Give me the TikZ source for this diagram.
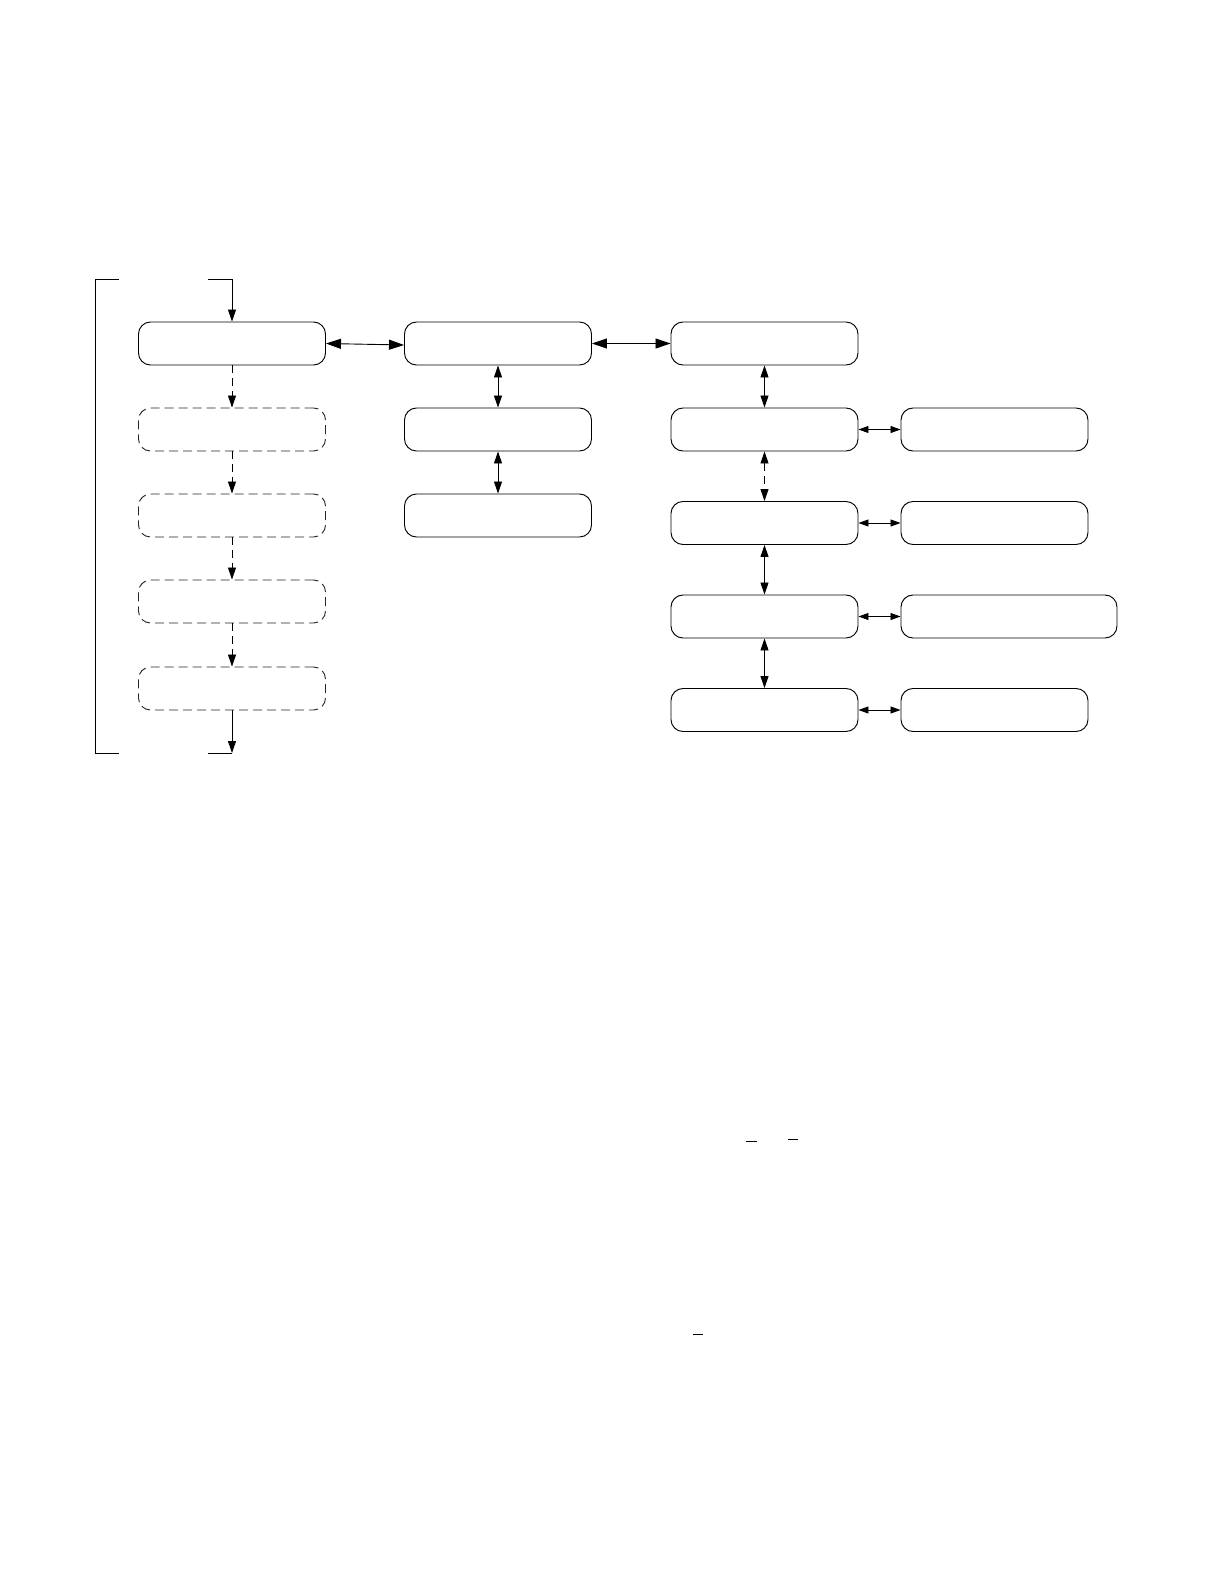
\documentclass[tikz,border=0pt]{standalone}
\usetikzlibrary{arrows.meta}
\begin{document}
\begin{tikzpicture}[x=1pt,y=-1pt,
  box/.style={draw, line width=0.95pt, rounded corners=12pt, minimum width=187pt, minimum height=43pt, inner sep=0pt},
  dbox/.style={box, draw=black!85, dash pattern=on 9pt off 5pt},
  wbox/.style={box, minimum width=216pt},
  link/.style={line width=0.9pt},
  bigtip/.style={{Triangle[length=15pt,width=10pt]}-{Triangle[length=15pt,width=10pt]}},
  vtip/.style={{Triangle[length=12pt,width=8pt]}-{Triangle[length=12pt,width=8pt]}},
  htip/.style={{Triangle[length=10pt,width=7pt]}-{Triangle[length=10pt,width=7pt]}},
  down/.style={-{Triangle[length=12pt,width=8pt]}},
  ddash/.style={dash pattern=on 8pt off 5pt}
]
\useasboundingbox (0,0) rectangle (1224,1584);

% column 1
\node[box]  (a1) at (232,343.5) {};
\node[dbox] (a2) at (232,429.5) {};
\node[dbox] (a3) at (232,515.5) {};
\node[dbox] (a4) at (232,601.5) {};
\node[dbox] (a5) at (232,688.5) {};

% column 2
\node[box] (b1) at (498,343.5) {};
\node[box] (b2) at (498,429.5) {};
\node[box] (b3) at (498,515.5) {};

% column 3
\node[box] (c1) at (764.5,343.5) {};
\node[box] (c2) at (764.5,429.5) {};
\node[box] (c3) at (764.5,523) {};
\node[box] (c4) at (764.5,616.5) {};
\node[box] (c5) at (764.5,710) {};

% column 4
\node[box]  (d2) at (994.5,429.5) {};
\node[box]  (d3) at (994.5,523) {};
\node[wbox] (d4) at (1009,616.5) {};
\node[box]  (d5) at (994.5,710) {};

% bracket
\coordinate (tl) at (95,279);
\coordinate (bl) at (95,753);
\coordinate (tr) at (232,279);
\coordinate (br) at (232,753);
\draw[link] (119,279) -- (tl) -- (bl) -- (119,753);
\draw[link, down] (208,279) -- (tr) -- (a1.north);
\draw[link, down] (a5.south) -- (br);
\draw[link] (br) -- (208,753);

% column 1 dashed flow
\draw[link, down, ddash] (a1) -- (a2);
\draw[link, down, ddash] (a2) -- (a3);
\draw[link, down, ddash] (a3) -- (a4);
\draw[link, down, ddash] (a4) -- (a5);

% horizontal top links
\draw[link, bigtip] (a1.east) -- ([yshift=-1.5pt]b1.west);
\draw[link, bigtip] (b1) -- (c1);

% column 2
\draw[link, vtip] (b1) -- (b2);
\draw[link, vtip] (b2) -- (b3);

% column 3
\draw[link, vtip] (c1) -- (c2);
\draw[link, vtip, ddash] (c2) -- (c3);
\draw[link, vtip] (c3) -- (c4);
\draw[link, vtip] (c4) -- (c5);

% column 3 to 4
\draw[link, htip] (c2) -- (d2);
\draw[link, htip] (c3) -- (d3);
\draw[link, htip] (c4) -- (d4);
\draw[link, htip] (c5) -- (d5);

% stray marks
\draw[line width=1pt] (746,1141) -- (757,1141);
\draw[line width=1pt] (788,1139) -- (798,1139);
\draw[line width=1pt] (693,1334) -- (703,1334);
\end{tikzpicture}
\end{document}
